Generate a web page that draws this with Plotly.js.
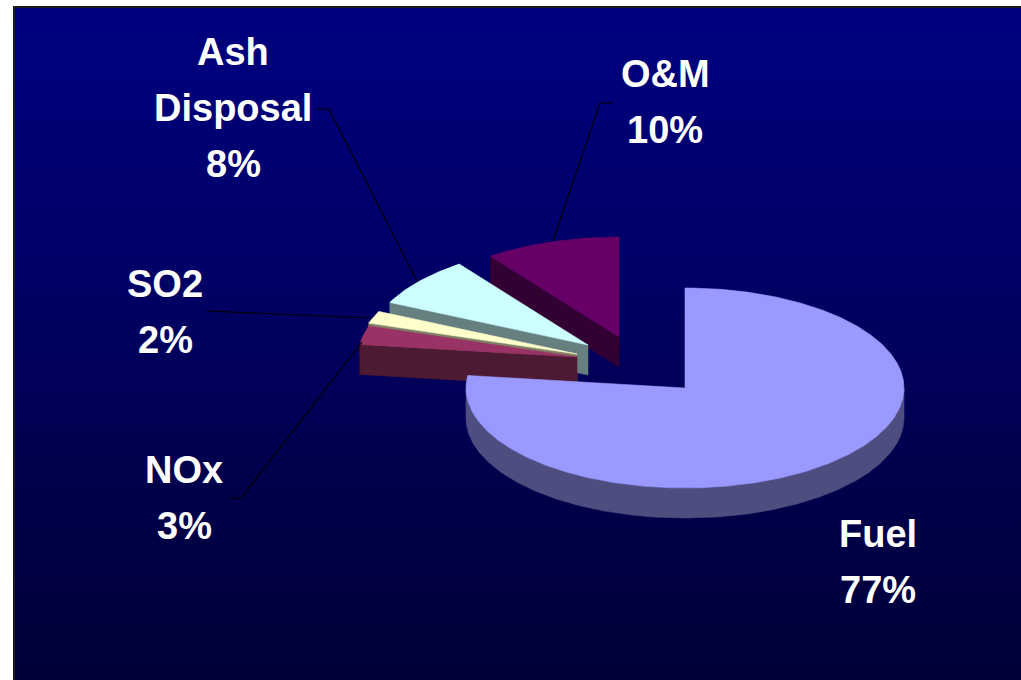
<!DOCTYPE html>
<html>
<head>
<meta charset="utf-8">
<script src="https://cdn.plot.ly/plotly-3.0.1.min.js"></script>
<style>
  html, body { margin: 0; padding: 0; background: #ffffff; }
  #panel { position: absolute; left: 13px; top: 6px; width: 1010px; height: 676px;
           box-sizing: border-box; border-left: 2px solid #1a1a1a; border-top: 2px solid #1a1a1a;
           background: linear-gradient(to bottom, #000080 0%, #00006a 35%, #000048 75%, #000038 100%); }
  #chart { position: absolute; left: 0; top: 0; width: 1021px; height: 680px; }
</style>
</head>
<body>
<div id="panel"></div>
<div id="chart"></div>
<script>
// ---- data ----
const labels = ['Fuel', 'NOx', 'SO2', 'Ash Disposal', 'O&M'];
const values = [77, 3, 2, 8, 10];

// ---- styles ----
const topColors  = ['#9999FF', '#993366', '#FFFFCC', '#CCFFFF', '#660066'];
const sideColors = ['#4D4D80', '#4D1A33', '#808066', '#668080', '#330033'];
const explodeDx  = [0, -108, -108, -97, -66];
const explodeDy  = [0, -31, -34, -43, -51];
const labelX     = [878, 184, 165, 233, 665];
const labelBase  = [547, 483, 297, 65, 87];
const lineGap    = 56;
const leaderPaths = [
  null,
  'M 227,498 L 241,498 L 362,342',
  'M 207,311 L 370,318',
  'M 316,109 L 329,109 L 417,281',
  'M 613,103 L 600,103 L 553,241'
];

// ---- geometry (pixel-like axes) ----
const W = 1021, H = 680;
const CX = 685, CY = 388, RX = 219, RY = 100, DEPTH = 30;
const total = values.reduce((a, b) => a + b, 0);

function pt(cx, cy, deg, dz) {
  const r = deg * Math.PI / 180;
  return [cx + RX * Math.cos(r), cy - RY * Math.sin(r) + dz];
}
function arc(cx, cy, a, b, dz) {
  const pts = [];
  const n = Math.max(2, Math.ceil(Math.abs(b - a) / 0.5));
  for (let k = 0; k <= n; k++) pts.push(pt(cx, cy, a + (b - a) * k / n, dz));
  return pts;
}
function poly(pts, color) {
  return {
    type: 'scatter', mode: 'lines', fill: 'toself', fillcolor: color,
    x: pts.map(p => p[0]).concat([pts[0][0]]),
    y: pts.map(p => p[1]).concat([pts[0][1]]),
    line: { color: color, width: 0.6 }, hoverinfo: 'skip', showlegend: false
  };
}

// angles: first slice starts at 12 o'clock, clockwise
const slices = [];
let start = 90;
values.forEach((v, i) => {
  const end = start - v / total * 360;
  slices.push({ i, lo: end, hi: start });
  start = end;
});

const traces = [];
const order = [4, 3, 2, 1, 0]; // back to front
order.forEach(i => {
  const s = slices[i];
  const cx = CX + explodeDx[i], cy = CY + explodeDy[i];
  const piv = [cx, cy], pivD = [cx, cy + DEPTH];
  // radial faces
  if (Math.cos(s.hi * Math.PI / 180) < -1e-6) {
    const e = pt(cx, cy, s.hi, 0), eD = pt(cx, cy, s.hi, DEPTH);
    traces.push(poly([piv, e, eD, pivD], sideColors[i]));
  }
  if (Math.cos(s.lo * Math.PI / 180) > 1e-6) {
    const e = pt(cx, cy, s.lo, 0), eD = pt(cx, cy, s.lo, DEPTH);
    traces.push(poly([piv, e, eD, pivD], sideColors[i]));
  }
  // outer wall (front half only)
  for (let n = -2; n <= 2; n++) {
    const a = Math.max(s.lo, 180 + 360 * n), b = Math.min(s.hi, 360 + 360 * n);
    if (b > a) {
      const topArc = arc(cx, cy, a, b, 0);
      const botArc = arc(cx, cy, b, a, DEPTH);
      traces.push(poly(topArc.concat(botArc), sideColors[i]));
    }
  }
  // top face
  traces.push(poly([piv].concat(arc(cx, cy, s.lo, s.hi, 0)), topColors[i]));
});

// ---- labels ----
const annotations = [];
labels.forEach((lab, i) => {
  const lines = lab.split(' ').concat([values[i] + '%']);
  lines.forEach((t, k) => {
    annotations.push({
      xref: 'x', yref: 'y', x: labelX[i], y: labelBase[i] + k * lineGap - 13,
      xanchor: 'center', yanchor: 'middle', showarrow: false,
      text: '<b>' + t + '</b>',
      font: { family: 'Liberation Sans, Arial, sans-serif', size: 38, color: '#ffffff' }
    });
  });
});

const shapes = leaderPaths.filter(p => p).map(p => ({
  type: 'path', xref: 'x', yref: 'y', path: p,
  line: { color: '#000000', width: 1.2 }
}));

const layout = {
  width: W, height: H,
  margin: { l: 0, r: 0, t: 0, b: 0 },
  paper_bgcolor: 'rgba(0,0,0,0)', plot_bgcolor: 'rgba(0,0,0,0)',
  xaxis: { range: [0, W], visible: false, fixedrange: true },
  yaxis: { range: [H, 0], visible: false, fixedrange: true },
  showlegend: false,
  annotations: annotations,
  shapes: shapes
};

Plotly.newPlot('chart', traces, layout, { displayModeBar: false, staticPlot: true });
</script>
</body>
</html>
